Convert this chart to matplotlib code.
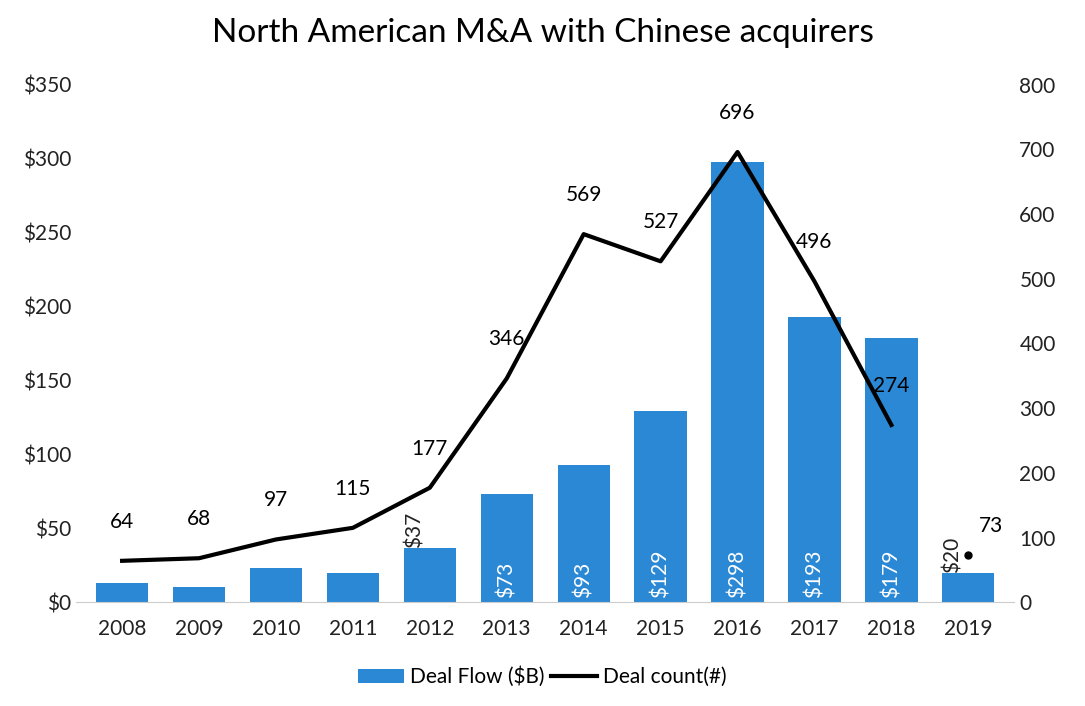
import matplotlib.pyplot as plt
import numpy as np

plt.rcParams['font.family'] = ['Lato', 'DejaVu Sans']

years = ['2008', '2009', '2010', '2011', '2012', '2013', '2014', '2015', '2016', '2017', '2018', '2019']
flow = [13, 10, 23, 20, 37, 73, 93, 129, 298, 193, 179, 20]
count = [64, 68, 97, 115, 177, 346, 569, 527, 696, 496, 274, 73]
flow_labels = ['', '', '', '', '$37', '$73', '$93', '$129', '$298', '$193', '$179', '$20']

fig = plt.figure(figsize=(10.85, 7.06), dpi=100)
ax = fig.add_axes([0.07, 0.147, 0.865, 0.733])
ax2 = ax.twinx()
x = np.arange(len(years))

bars = ax.bar(x, flow, width=0.68, color='#2B88D4', label='Deal Flow ($B)')
for i, lab in enumerate(flow_labels):
    if not lab:
        continue
    if flow[i] > 60:
        ax.text(x[i], 3, lab, rotation=90, ha='center', va='bottom', color='white', fontsize=15)
    else:
        ax.text(x[i] - 0.2, flow[i], lab, rotation=90, ha='center', va='bottom', color='#222222', fontsize=15)

line, = ax2.plot(x[:-1], count[:-1], color='black', lw=3, label='Deal count(#)')
ax2.plot(x[-1], count[-1], 'o', color='black', ms=5)
for i, c in enumerate(count):
    dy = 60 if i < 5 else 50
    if i == 11:
        ax2.text(x[i] + 0.3, c + 30, str(c), ha='center', va='bottom', fontsize=15)
    else:
        ax2.text(x[i], c + 45, str(c), ha='center', va='bottom', fontsize=15)

ax.set_ylim(0, 350)
ax.set_yticks(range(0, 351, 50))
ax.set_yticklabels(['$%d' % v for v in range(0, 351, 50)])
ax2.set_ylim(0, 800)
ax2.set_yticks(range(0, 801, 100))
ax.set_xlim(-0.6, 11.6)
ax.set_xticks(x)
ax.set_xticklabels(years)

for a in (ax, ax2):
    for s in ['top', 'left', 'right']:
        a.spines[s].set_visible(False)
    a.tick_params(length=0, labelsize=15, colors='#222222')
ax2.spines['bottom'].set_visible(False)
ax.spines['bottom'].set_color('#cccccc')
ax.tick_params(axis='x', pad=12)

fig.suptitle('North American M&A with Chinese acquirers', fontsize=24, y=0.975)
fig.legend([bars, line], ['Deal Flow ($B)', 'Deal count(#)'], loc='lower center',
           ncol=2, frameon=False, fontsize=15, bbox_to_anchor=(0.5, 0.0),
           handlelength=2.2, columnspacing=0.3, handletextpad=0.3)

fig.savefig('out.png', dpi=100)
